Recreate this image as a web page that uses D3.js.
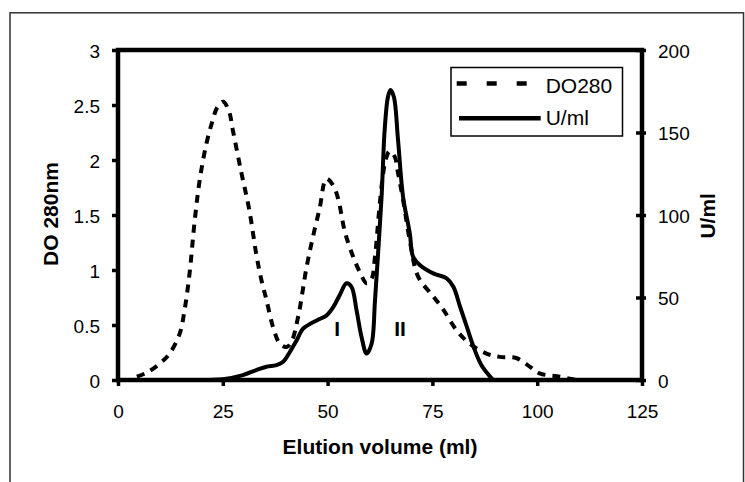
<!DOCTYPE html>
<html>
<head>
<meta charset="utf-8">
<script src="https://cdn.jsdelivr.net/npm/d3@7"></script>
<style>
  body { margin: 0; background: #fff; }
  text { font-family: "Liberation Sans", Arial, sans-serif; fill: #000; }
</style>
</head>
<body>
<svg id="chart" width="745" height="482"></svg>
<script>
// Elution profile: absorbance (DO280, left axis) and activity (U/ml, right axis)

// DO280 readings (dashed curve)
const doVolume = [4.5, 7, 10, 12.3, 14.7, 15.9, 17.1, 18.3, 19.5, 21.1, 22.5, 23.7, 25.1, 26.5, 27.4,
  29.4, 31.3, 33, 34.2, 35.4, 37, 38.6, 40.2, 41.4, 43, 45, 46.5, 48.1, 49.7, 51.3, 52.5, 54.1,
  56.1, 57.7, 59.3, 60.5, 61.3, 62.2, 63, 63.9, 64.8, 66, 66.8, 68, 69.6, 71.6, 75.2, 77.6, 80.8,
  83.9, 87.9, 91.1, 95, 98.3, 100.6, 105.4, 109.4];
const doValues = [0.03, 0.07, 0.15, 0.24, 0.42, 0.64, 0.98, 1.45, 1.82, 2.15, 2.35, 2.48, 2.53, 2.44, 2.27,
  1.89, 1.55, 1.14, 0.91, 0.73, 0.48, 0.33, 0.30, 0.35, 0.58, 1.03, 1.30, 1.56, 1.83, 1.77, 1.65, 1.35,
  1.12, 0.98, 0.88, 0.92, 1.12, 1.5, 1.8, 2.01, 2.08, 2.03, 1.88, 1.64, 1.27, 0.94, 0.76, 0.64, 0.45,
  0.33, 0.24, 0.21, 0.20, 0.12, 0.06, 0.03, 0.0];

// enzyme activity (solid curve)
const uVolume = [20, 25, 29.8, 33, 35.4, 37.8, 39.4, 41, 42.6, 44.1, 45.8, 48.1, 49.7, 51.3, 52.9, 54.5,
  55.7, 56.9, 58.1, 59.3, 60.5, 61.3, 62.1, 62.9, 63.6, 64.4, 65, 65.8, 66.8, 68, 69.6, 70.4, 72,
  75.2, 78.4, 80, 81.6, 83.2, 84.8, 86.7, 89.5];
const uValues = [0, 0.5, 3, 6, 8, 9, 11, 17, 24, 31, 34, 37, 39, 44, 51.5, 58.6,
  56.5, 42.4, 26, 16, 22, 48, 79, 112, 151, 171.7, 175.8, 171.7, 145.5, 111, 89, 74.7, 69.7,
  64.6, 61.6, 56.5, 44.4, 32.3, 20.2, 9, 0];

const xTicks = [0, 25, 50, 75, 100, 125];
const doTicks = [0, 0.5, 1, 1.5, 2, 2.5, 3];
const uTicks = [0, 50, 100, 150, 200];

// peak labels
const peakNames = ["I", "II"];
const peakVolume = [52.3, 67.3];
const peakHeight = [0.4, 0.4];

const svg = d3.select("#chart");

// thin outer border
svg.append("rect")
  .attr("x", 10).attr("y", 12.8)
  .attr("width", 733.5).attr("height", 480)
  .attr("fill", "none")
  .attr("stroke", "#333")
  .attr("stroke-width", 1.5);

const x = d3.scaleLinear().domain([0, 125]).range([118, 642]);
const yL = d3.scaleLinear().domain([0, 3]).range([380, 50]);
const yR = d3.scaleLinear().domain([0, 200]).range([380, 50]);

// axes
const gx = svg.append("g")
  .attr("transform", "translate(0,380)")
  .call(d3.axisBottom(x).tickValues(xTicks).tickSizeInner(6).tickSizeOuter(0).tickPadding(18.5));

const gl = svg.append("g")
  .attr("transform", "translate(118,0)")
  .call(d3.axisLeft(yL).tickValues(doTicks).tickFormat(d => String(d))
    .tickSizeInner(6).tickSizeOuter(0).tickPadding(12));

const gr = svg.append("g")
  .attr("transform", "translate(642,0)")
  .call(d3.axisRight(yR).tickValues(uTicks).tickFormat(d => String(d))
    .tickSizeInner(4).tickSizeOuter(0).tickPadding(12));

[gx, gl, gr].forEach(g => {
  g.select(".domain").remove();
  g.selectAll(".tick line").attr("stroke", "#000").attr("stroke-width", 3.5);
  g.selectAll(".tick text")
    .attr("fill", "#000")
    .style("font-family", "'Liberation Sans', Arial, sans-serif")
    .style("font-size", "19px");
});
gl.selectAll(".tick text").attr("dy", "0.37em");
gr.selectAll(".tick text").attr("dy", "0.37em");
gr.selectAll(".tick line").attr("x1", -6);

// plot frame
svg.append("rect")
  .attr("x", 118).attr("y", 50)
  .attr("width", 524).attr("height", 330)
  .attr("fill", "none")
  .attr("stroke", "#000")
  .attr("stroke-width", 4.5);

// curves
const doLine = d3.line()
  .x(i => x(doVolume[i]))
  .y(i => yL(doValues[i]))
  .curve(d3.curveCatmullRom.alpha(0.5));

const uLine = d3.line()
  .x(i => x(uVolume[i]))
  .y(i => yR(uValues[i]))
  .curve(d3.curveCatmullRom.alpha(0.5));

svg.append("path")
  .attr("d", doLine(d3.range(doVolume.length)))
  .attr("fill", "none")
  .attr("stroke", "#000")
  .attr("stroke-width", 4)
  .attr("stroke-dasharray", "8,7");

svg.append("path")
  .attr("d", uLine(d3.range(uVolume.length)))
  .attr("fill", "none")
  .attr("stroke", "#000")
  .attr("stroke-width", 4)
  .attr("stroke-linejoin", "round");

// peak labels I / II
svg.selectAll("text.peak")
  .data(peakNames)
  .join("text")
  .attr("class", "peak")
  .attr("x", (d, i) => x(peakVolume[i]))
  .attr("y", (d, i) => yL(peakHeight[i]))
  .attr("text-anchor", "middle")
  .style("font-size", "21px")
  .style("font-weight", "bold")
  .text(d => d);

// legend
const lg = svg.append("g");
lg.append("rect")
  .attr("x", 451).attr("y", 67.5)
  .attr("width", 171.5).attr("height", 68.5)
  .attr("fill", "#fff")
  .attr("stroke", "#000")
  .attr("stroke-width", 1.5);
lg.append("line")
  .attr("x1", 456.7).attr("x2", 530).attr("y1", 83.5).attr("y2", 83.5)
  .attr("stroke", "#000").attr("stroke-width", 4.5)
  .attr("stroke-dasharray", "10,20");
lg.append("line")
  .attr("x1", 459).attr("x2", 540.7).attr("y1", 118.3).attr("y2", 118.3)
  .attr("stroke", "#000").attr("stroke-width", 4.5);
lg.append("text").attr("x", 545.7).attr("y", 93.3).style("font-size", "21px").text("DO280");
lg.append("text").attr("x", 545.7).attr("y", 125).style("font-size", "21px").text("U/ml");

// axis titles
svg.append("text")
  .attr("x", 380).attr("y", 454)
  .attr("text-anchor", "middle")
  .style("font-size", "21px").style("font-weight", "bold")
  .text("Elution volume (ml)");

svg.append("text")
  .attr("transform", "translate(58.3,214) rotate(-90)")
  .attr("text-anchor", "middle")
  .style("font-size", "21px").style("font-weight", "bold")
  .text("DO 280nm");

svg.append("text")
  .attr("transform", "translate(715,215.8) rotate(-90)")
  .attr("text-anchor", "middle")
  .style("font-size", "21px").style("font-weight", "bold")
  .text("U/ml");
</script>
</body>
</html>
